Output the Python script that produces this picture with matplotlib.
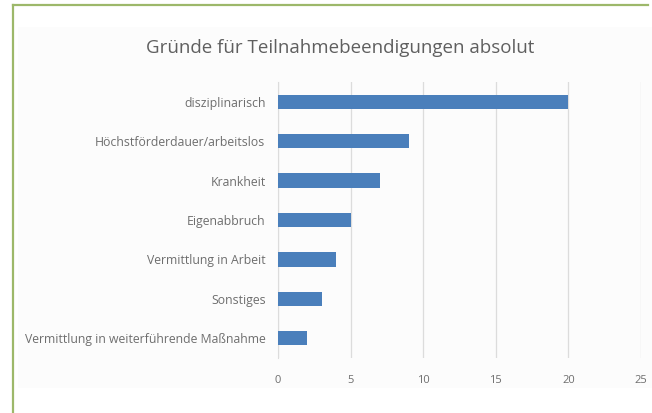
import matplotlib.pyplot as plt
from matplotlib.lines import Line2D
from matplotlib.patches import Rectangle

# Gründe, von oben nach unten
gruende = ["disziplinarisch", "Höchstförderdauer/arbeitslos", "Krankheit",
           "Eigenabbruch", "Vermittlung in Arbeit", "Sonstiges",
           "Vermittlung in weiterführende Maßnahme"]
anzahl = [20, 9, 7, 5, 4, 3, 2]
x_ticks = [0, 5, 10, 15, 20, 25]

text_grau = "#6e6e6e"
balken_blau = "#4a7fbb"

plt.rcParams['font.family'] = ['Open Sans', 'DejaVu Sans']

fig = plt.figure(figsize=(6.52, 4.13), dpi=100)
W, H = 652, 413

# hellgrauer Diagrammbereich
fig.add_artist(Rectangle((18 / W, 1 - 388 / H), (W - 18) / W, (388 - 27) / H,
                         transform=fig.transFigure, facecolor="#fcfcfc",
                         edgecolor="none", zorder=0))
# grüner Rahmen oben und links
rahmen = "#9db86a"
fig.add_artist(Line2D([12.5 / W, 648 / W], [1 - 4.5 / H, 1 - 4.5 / H],
                      transform=fig.transFigure, color=rahmen, lw=1.6))
fig.add_artist(Line2D([12.5 / W, 12.5 / W], [1 - 4.5 / H, 0],
                      transform=fig.transFigure, color=rahmen, lw=1.6))

ax = fig.add_axes([278 / W, 1 - 358 / H, (641 - 278) / W, (358 - 82) / H])
ax.set_facecolor("none")

pos = list(range(len(gruende)))
ax.barh(pos, anzahl, height=0.36, color=balken_blau, zorder=3)
ax.set_ylim(len(gruende) - 0.5, -0.5)
ax.set_xlim(0, 25)
ax.set_xticks(x_ticks)
ax.set_yticks(pos)
ax.set_yticklabels(gruende)

ax.grid(axis="x", color="#dcdcdc", lw=0.9, zorder=0)
for s in ["top", "right", "bottom"]:
    ax.spines[s].set_visible(False)
ax.spines["left"].set_color("#dcdcdc")
ax.tick_params(axis="both", length=0, colors=text_grau)
ax.tick_params(axis="y", labelsize=8.8, pad=9)
ax.tick_params(axis="x", labelsize=8, pad=12)

fig.text(340 / W, 1 - 48 / H, "Gründe für Teilnahmebeendigungen absolut",
         ha="center", va="center", fontsize=13.5, color="#5f5f5f")

fig.savefig("out.png", dpi=100)
